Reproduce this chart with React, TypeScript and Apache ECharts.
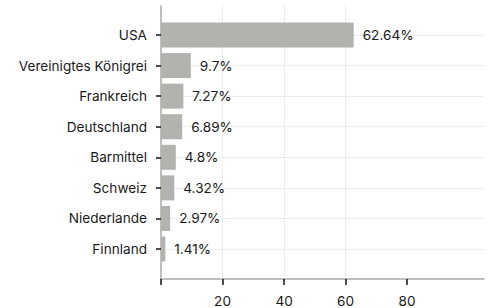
import React, { useEffect, useRef } from "react";
import * as echarts from "echarts";

const categories = [
  "USA",
  "Vereinigtes Königrei",
  "Frankreich",
  "Deutschland",
  "Barmittel",
  "Schweiz",
  "Niederlande",
  "Finnland",
];
const values = [62.64, 9.7, 7.27, 6.89, 4.8, 4.32, 2.97, 1.41];
const xTicks = [0, 20, 40, 60, 80];
const xLabels = [20, 40, 60, 80];

const FONT = "Inter";
const FS = 13.6;
const TEXT = "#1a1a1a";
const GRID = "#ececec";
const AXIS = "#a9a9a9";
const BAR = "#b4b2ae";

export default function App() {
  const ref = useRef<HTMLDivElement>(null);
  useEffect(() => {
    if (!ref.current) return;
    const chart = echarts.init(ref.current, null, { renderer: "svg" });
    chart.setOption({
      animation: false,
      textStyle: { fontFamily: FONT },
      grid: [
        { left: 161, right: 5, top: 35, height: 214 },
        { left: 161, right: 5, top: 6, height: 273 },
      ],
      xAxis: [
        {
          gridIndex: 0,
          type: "value",
          min: 0,
          max: 105,
          show: false,
        },
        {
          gridIndex: 1,
          type: "value",
          min: 0,
          max: 105,
          interval: 20,
          axisLine: { show: true, lineStyle: { color: AXIS, width: 1.5 } },
          axisTick: {
            show: true,
            customValues: xTicks,
            length: 6,
            lineStyle: { color: "#111", width: 1.5 },
          },
          axisLabel: {
            customValues: xLabels,
            color: TEXT,
            fontSize: FS,
            fontFamily: FONT,
            margin: 15,
          },
          splitLine: {
            show: true,
            showMinLine: false,
            showMaxLine: false,
            lineStyle: { color: GRID, width: 1 },
          },
        },
      ],
      yAxis: [
        {
          gridIndex: 0,
          type: "category",
          data: categories,
          inverse: true,
          boundaryGap: false,
          axisLine: { show: false },
          axisTick: {
            show: true,
            length: 5,
            lineStyle: { color: "#111", width: 1.5 },
          },
          axisLabel: {
            color: TEXT,
            fontSize: FS,
            fontFamily: FONT,
            margin: 14,
          },
          splitLine: { show: true, lineStyle: { color: GRID, width: 1 } },
        },
        {
          gridIndex: 1,
          type: "value",
          min: 0,
          max: 1,
          axisLine: { show: true, lineStyle: { color: AXIS, width: 1.5 } },
          axisTick: { show: false },
          axisLabel: { show: false },
          splitLine: { show: false },
        },
      ],
      series: [
        {
          type: "bar",
          xAxisIndex: 0,
          yAxisIndex: 0,
          data: values,
          barWidth: 25,
          itemStyle: { color: BAR },
          label: {
            show: true,
            position: "right",
            distance: 9,
            color: TEXT,
            fontSize: FS,
            fontFamily: FONT,
            formatter: (p: any) => `${p.value}%`,
          },
        },
      ],
    });
    return () => chart.dispose();
  }, []);
  return <div ref={ref} style={{ width: 489, height: 308, position: "absolute", left: 0, top: 0 }} />;
}
